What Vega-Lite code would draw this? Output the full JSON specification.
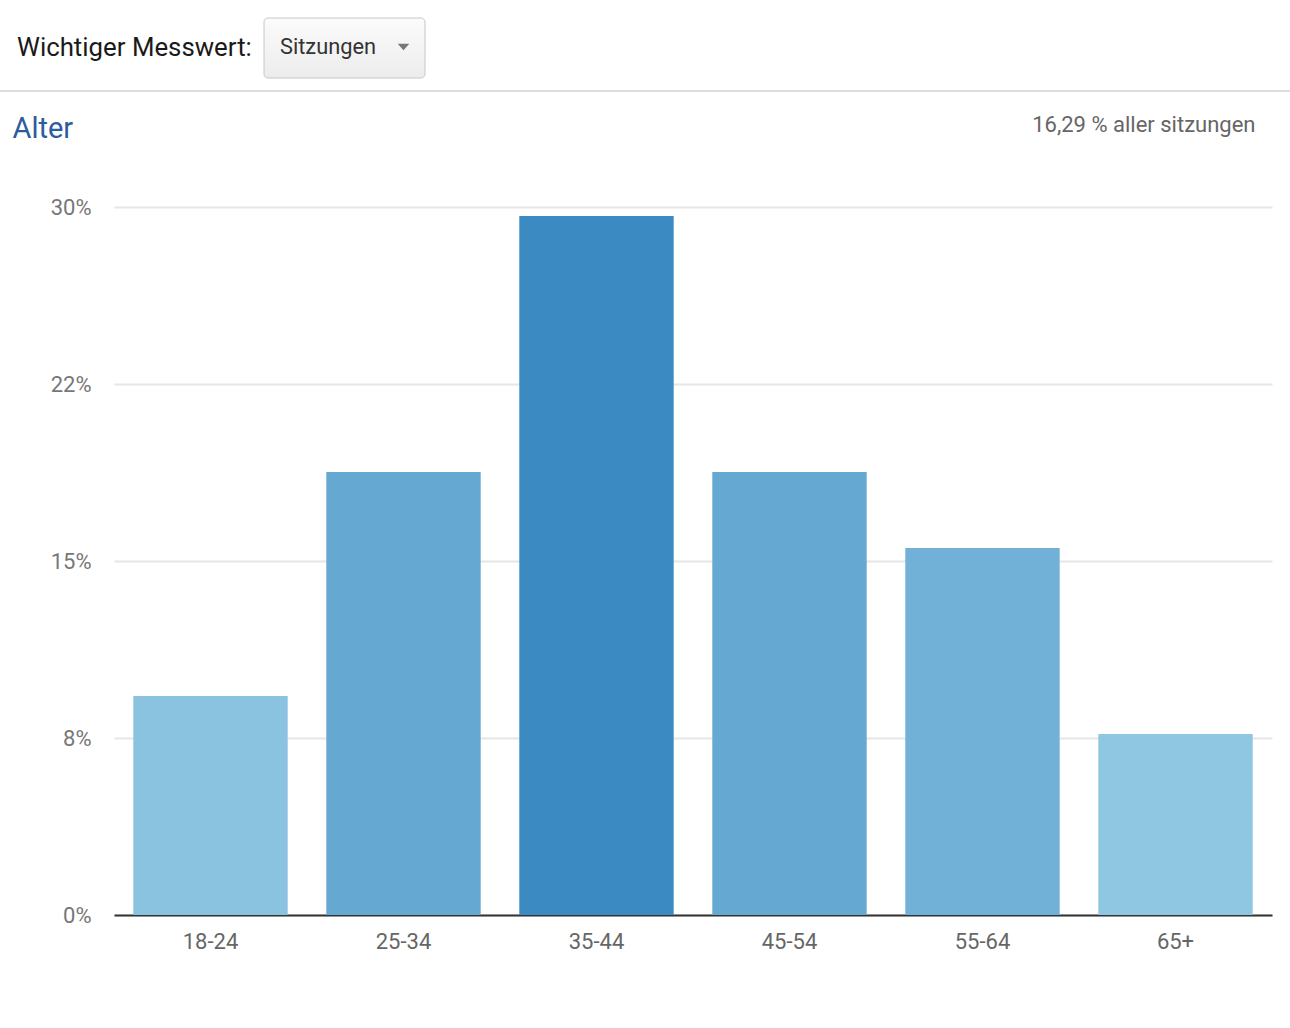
{
  "$schema": "https://vega.github.io/schema/vega-lite/v6.json",
  "background": "white",
  "padding": {"left": 0, "top": 17, "right": 0, "bottom": 0},
  "config": {"font": "Roboto", "view": {"stroke": null}},
  "datasets": {
    "alter_daten": [
      {"alter": "18-24", "anteil": 9.28},
      {"alter": "25-34", "anteil": 18.77},
      {"alter": "35-44", "anteil": 29.62},
      {"alter": "45-54", "anteil": 18.77},
      {"alter": "55-64", "anteil": 15.55},
      {"alter": "65+", "anteil": 7.67}
    ]
  },
  "spacing": 21,
  "vconcat": [
    {
      "spacing": 11,
      "vconcat": [
        {
          "spacing": 0,
          "hconcat": [
            {
              "width": 263,
              "height": 60,
              "data": {"values": [{"label": "Wichtiger Messwert:"}]},
              "mark": {"type": "text", "fontSize": 25.8, "color": "#1a1a1a", "align": "left", "baseline": "alphabetic", "dx": -114.5, "dy": 8},
              "encoding": {"text": {"field": "label"}}
            },
            {
              "width": 161,
              "height": 60,
              "data": {"values": [{"metric": "Sitzungen"}]},
              "layer": [
                {
                  "mark": {"type": "rect", "cornerRadius": 4, "stroke": "#c6c6c6", "strokeWidth": 1,
                    "fill": {"gradient": "linear", "x1": 0, "y1": 0, "x2": 0, "y2": 1,
                      "stops": [{"offset": 0, "color": "#fbfbfb"}, {"offset": 1, "color": "#ececec"}]}},
                  "encoding": {}
                },
                {
                  "mark": {"type": "text", "fontSize": 21.8, "color": "#333333", "align": "left", "baseline": "alphabetic", "dx": -64.5, "dy": 6},
                  "encoding": {"text": {"field": "metric"}}
                },
                {
                  "mark": {"type": "point", "shape": "M-1,-0.57L1,-0.57L0,0.57Z", "size": 135, "filled": true, "color": "#777777", "opacity": 1, "strokeWidth": 0, "xOffset": 59, "yOffset": -1},
                  "encoding": {}
                }
              ]
            }
          ]
        },
        {
          "width": 1290,
          "height": 2,
          "data": {"values": [{"trenner": 1}]},
          "mark": {"type": "rect", "color": "#dddddd"},
          "encoding": {}
        }
      ]
    },
    {
      "spacing": 0,
      "resolve": {"scale": {"y": "independent"}},
      "hconcat": [
        {
          "width": 114,
          "height": 708,
          "data": {"name": "alter_daten"},
          "mark": {"type": "point", "opacity": 0},
          "encoding": {
            "y": {
              "field": "anteil", "type": "quantitative",
              "scale": {"domain": [0, 30], "nice": false},
              "axis": {"orient": "left", "offset": -114, "values": [0, 7.5, 15, 22.5, 30],
                "labelExpr": "datum.value == 7.5 ? '8%' : datum.value == 22.5 ? '22%' : datum.value + '%'",
                "domain": false, "ticks": false, "tickSize": 0, "grid": false,
                "labelPadding": 23, "labelFontSize": 22, "labelColor": "#777777",
                "title": "Alter", "titleAngle": 0, "titleAlign": "left", "titleBaseline": "alphabetic",
                "titleX": -102, "titleY": -70, "titleFontSize": 29, "titleFontWeight": "normal", "titleColor": "#2b5c9c"}
            }
          }
        },
        {
          "width": 1158,
          "height": 708,
          "data": {"name": "alter_daten"},
          "layer": [
            {
              "mark": {"type": "bar"},
              "encoding": {
                "x": {
                  "field": "alter", "type": "nominal", "sort": null,
                  "scale": {"paddingInner": 0.2, "paddingOuter": 0.1},
                  "axis": {"orient": "bottom", "title": null, "domainColor": "#333333", "domainWidth": 2, "ticks": false, "tickSize": 0,
                    "labelFontSize": 22, "labelColor": "#666666", "labelPadding": 16, "labelAngle": 0, "grid": false}
                },
                "y": {
                  "field": "anteil", "type": "quantitative",
                  "scale": {"domain": [0, 30], "nice": false},
                  "axis": {"orient": "left", "values": [0, 7.5, 15, 22.5, 30], "labels": false,
                    "domain": false, "ticks": false, "tickSize": 0, "title": null,
                    "gridColor": "#e6e6e6", "gridWidth": 2}
                },
                "color": {
                  "field": "anteil", "type": "quantitative",
                  "scale": {"domain": [7.67, 29.62], "range": ["#8fc7e3", "#3b8bc2"]},
                  "legend": null
                }
              }
            },
            {
              "mark": {"type": "bar", "opacity": 0},
              "encoding": {
                "x": {
                  "field": "alter", "type": "nominal", "sort": null,
                  "axis": {"orient": "top", "labels": false, "ticks": false, "domain": false, "grid": false,
                    "title": "16,29 % aller sitzungen", "titleFontSize": 22, "titleFontWeight": "normal", "titleColor": "#666666",
                    "titleAlign": "right", "titleBaseline": "alphabetic", "titleX": 1141, "titleY": -76}
                }
              }
            }
          ],
          "resolve": {"axis": {"x": "independent"}}
        }
      ]
    }
  ]
}
